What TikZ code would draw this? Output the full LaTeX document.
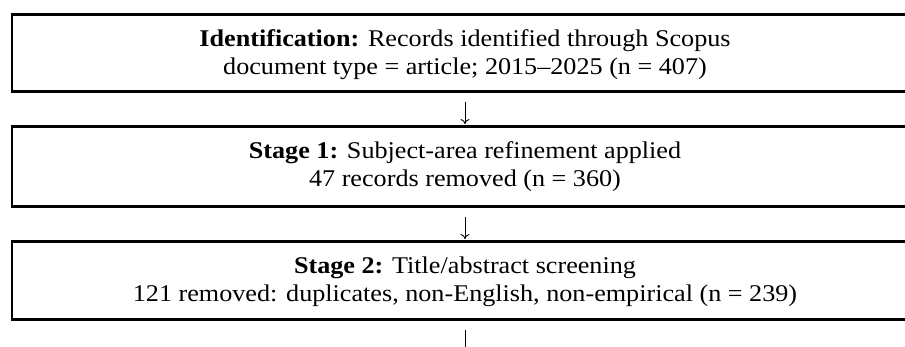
\documentclass[tikz,border=0pt]{standalone}
\usepackage{fontspec}
\setmainfont{Liberation Serif}[FakeStretch=1.09]
\usetikzlibrary{arrows.meta}
\begin{document}
\begin{tikzpicture}[x=1pt,y=-1pt,
  stagebox/.style={draw=black,line width=2.7pt,minimum width=906pt,inner sep=0pt,anchor=north,
    align=center,text height=60pt,font=\fontsize{24}{28}\selectfont},
  flowarrow/.style={line width=0.9pt,-{To[length=5pt,width=9pt]},shorten <=9pt,shorten >=1pt}]
\useasboundingbox (0,0) rectangle (905,347);
\clip (0,0) rectangle (905,347);
\node[stagebox,text depth=17pt] (b1) at (465,13)
  {\textbf{Identification:} Records identified through Scopus\\document type = article; 2015–2025 (n = 407)};
\node[stagebox,text depth=20pt] (b2) at (465,125)
  {\textbf{Stage 1:} Subject-area refinement applied\\47 records removed (n = 360)};
\node[stagebox,text depth=18pt] (b3) at (465,240)
  {\textbf{Stage 2:} Title/abstract screening\\121 removed: duplicates, non-English, non-empirical (n = 239)};
\coordinate (next) at (465,365);
\draw[flowarrow] (b1) -- (b2);
\draw[flowarrow] (b2) -- (b3);
\draw[flowarrow] (b3) -- (next);
\end{tikzpicture}
\end{document}
